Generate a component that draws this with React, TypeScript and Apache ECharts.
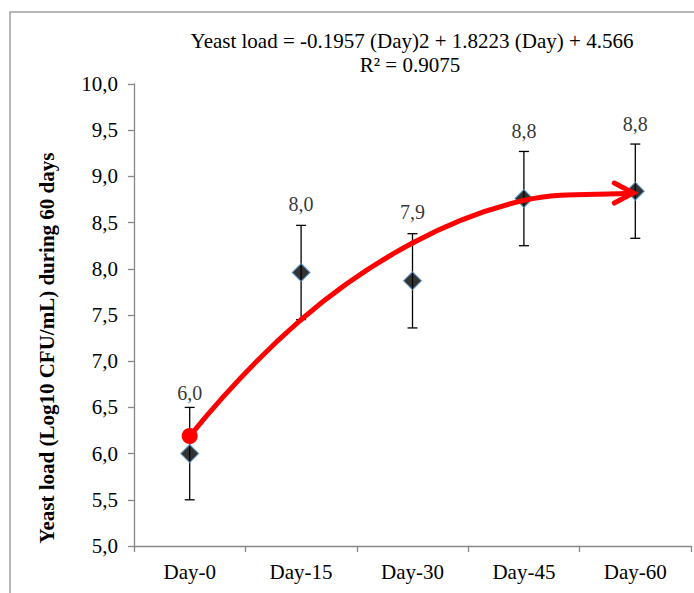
import React, { useEffect, useRef } from "react";
import * as echarts from "echarts";

const categories = ["Day-0", "Day-15", "Day-30", "Day-45", "Day-60"];
const yeastMeans = [6.0, 7.96, 7.87, 8.76, 8.84];
const errorHalf = [0.5, 0.51, 0.51, 0.51, 0.51];
const trendValues = [6.19, 7.45, 8.28, 8.74, 8.82];
const labelDistances = [40, 48, 48, 47, 47];
const equationText = "Yeast load = -0.1957 (Day)2 + 1.8223 (Day) + 4.566";
const r2Text = "R² = 0.9075";
const yAxisTitle = "Yeast load (Log10 CFU/mL) during 60 days";
const yMin = 5;
const yMax = 10;
const yInterval = 0.5;

const FONT = "Liberation Serif";
const comma = (v: number) => v.toFixed(1).replace(".", ",");

export default function App() {
  const ref = useRef<HTMLDivElement>(null);
  useEffect(() => {
    document.body.style.margin = "0";
    if (!ref.current) return;
    const chart = echarts.init(ref.current, undefined, { renderer: "svg" });
    const axisColor = "#888888";
    const red = "#ff0000";
    chart.setOption({
      animation: false,
      backgroundColor: "#ffffff",
      textStyle: { fontFamily: FONT },
      grid: { left: 134, right: 3, top: 84, bottom: 47, containLabel: false },
      xAxis: {
        type: "category",
        data: categories,
        boundaryGap: true,
        axisLine: { show: true, lineStyle: { color: axisColor, width: 1.3 } },
        axisTick: { show: true, length: 6, alignWithLabel: false, lineStyle: { color: axisColor, width: 1.3 } },
        axisLabel: { color: "#000", fontFamily: FONT, fontSize: 21, margin: 15 },
        splitLine: { show: false },
      },
      yAxis: {
        type: "value",
        min: yMin,
        max: yMax,
        interval: yInterval,
        axisLine: { show: true, lineStyle: { color: axisColor, width: 1.3 } },
        axisTick: { show: true, length: 6, lineStyle: { color: axisColor, width: 1.3 } },
        axisLabel: { color: "#000", fontFamily: FONT, fontSize: 21, margin: 16, formatter: (v: number) => comma(v) },
        splitLine: { show: false },
      },
      graphic: [
        {
          type: "rect",
          shape: { x: 10, y: 12, width: 720, height: 640 },
          style: { fill: "none", stroke: "#a0a0a0", lineWidth: 1.5 },
          silent: true,
          z: -10,
        },
        {
          type: "text",
          x: 412,
          y: 41,
          style: { text: equationText, fontFamily: FONT, fontSize: 21, fill: "#000", textAlign: "center", textVerticalAlign: "middle" },
        },
        {
          type: "text",
          x: 410,
          y: 65,
          style: { text: r2Text, fontFamily: FONT, fontSize: 21, fill: "#000", textAlign: "center", textVerticalAlign: "middle" },
        },
        {
          type: "text",
          x: 47,
          y: 348,
          rotation: Math.PI / 2,
          style: { text: yAxisTitle, fontFamily: FONT, fontSize: 21, fontWeight: "bold", fill: "#000", textAlign: "center", textVerticalAlign: "middle" },
        },
      ],
      series: [
        {
          type: "custom",
          name: "error",
          z: 1,
          renderItem: (params: any, api: any) => {
            const x = api.value(0);
            const lo = api.coord([x, api.value(1)]);
            const hi = api.coord([x, api.value(2)]);
            const w = 5;
            const st = { stroke: "#000", lineWidth: 1.3 };
            return {
              type: "group",
              children: [
                { type: "line", shape: { x1: hi[0], y1: hi[1], x2: lo[0], y2: lo[1] }, style: st },
                { type: "line", shape: { x1: hi[0] - w, y1: hi[1], x2: hi[0] + w, y2: hi[1] }, style: st },
                { type: "line", shape: { x1: lo[0] - w, y1: lo[1], x2: lo[0] + w, y2: lo[1] }, style: st },
              ],
            };
          },
          encode: { x: 0, y: [1, 2] },
          data: yeastMeans.map((m, i) => [i, m - errorHalf[i], m + errorHalf[i]]),
        },
        {
          type: "scatter",
          name: "Yeast load",
          z: 2,
          symbol: "diamond",
          symbolSize: 18,
          itemStyle: { color: "#000000", borderColor: "#5b9bd5", borderWidth: 1.1 },
          label: {
            show: true,
            position: "top",
            color: "#000",
            fontFamily: FONT,
            fontSize: 20,
            formatter: (p: any) => comma(p.value[1]),
          },
          data: yeastMeans.map((m, i) => ({ value: [i, m], label: { distance: labelDistances[i] + 1 } })),
        },
        {
          type: "custom",
          name: "Trend",
          z: 3,
          encode: { x: 0, y: 1 },
          data: trendValues.map((v, i) => [i, v]),
          renderItem: (params: any, api: any) => {
            if (params.dataIndex !== 0) return null;
            const n = trendValues.length;
            const P = trendValues.map((v, i) => api.coord([i, v]));
            const T: number[][] = P.map((p, i) => {
              if (i === 0) return [(-3 * P[0][0] + 4 * P[1][0] - P[2][0]) / 2, (-3 * P[0][1] + 4 * P[1][1] - P[2][1]) / 2];
              if (i === n - 1) return [P[n - 1][0] - P[n - 2][0], P[n - 1][1] - P[n - 2][1]];
              return [(P[i + 1][0] - P[i - 1][0]) / 2, (P[i + 1][1] - P[i - 1][1]) / 2];
            });
            const lineStyle = { stroke: red, lineWidth: 5, fill: "none", lineCap: "round" };
            const children: any[] = [];
            for (let i = 0; i < n - 1; i++) {
              const end = i === n - 2 ? [P[i + 1][0] - 2, P[i + 1][1]] : P[i + 1];
              children.push({
                type: "bezierCurve",
                shape: {
                  x1: P[i][0],
                  y1: P[i][1],
                  cpx1: P[i][0] + T[i][0] / 3,
                  cpy1: P[i][1] + T[i][1] / 3,
                  cpx2: end[0] - T[i + 1][0] / 3,
                  cpy2: end[1] - T[i + 1][1] / 3,
                  x2: end[0],
                  y2: end[1],
                },
                style: lineStyle,
              });
            }
            const tip = [P[n - 1][0] - 2, P[n - 1][1]];
            children.push({
              type: "polyline",
              shape: { points: [[tip[0] - 19, tip[1] - 10], tip, [tip[0] - 19, tip[1] + 10]] },
              style: { stroke: red, lineWidth: 5, fill: "none", lineJoin: "miter", lineCap: "round" },
            });
            children.push({
              type: "circle",
              shape: { cx: P[0][0], cy: P[0][1], r: 8 },
              style: { fill: red },
            });
            return { type: "group", children };
          },
        },
      ],
    });
    return () => chart.dispose();
  }, []);
  return <div ref={ref} style={{ width: 694, height: 593 }} />;
}
